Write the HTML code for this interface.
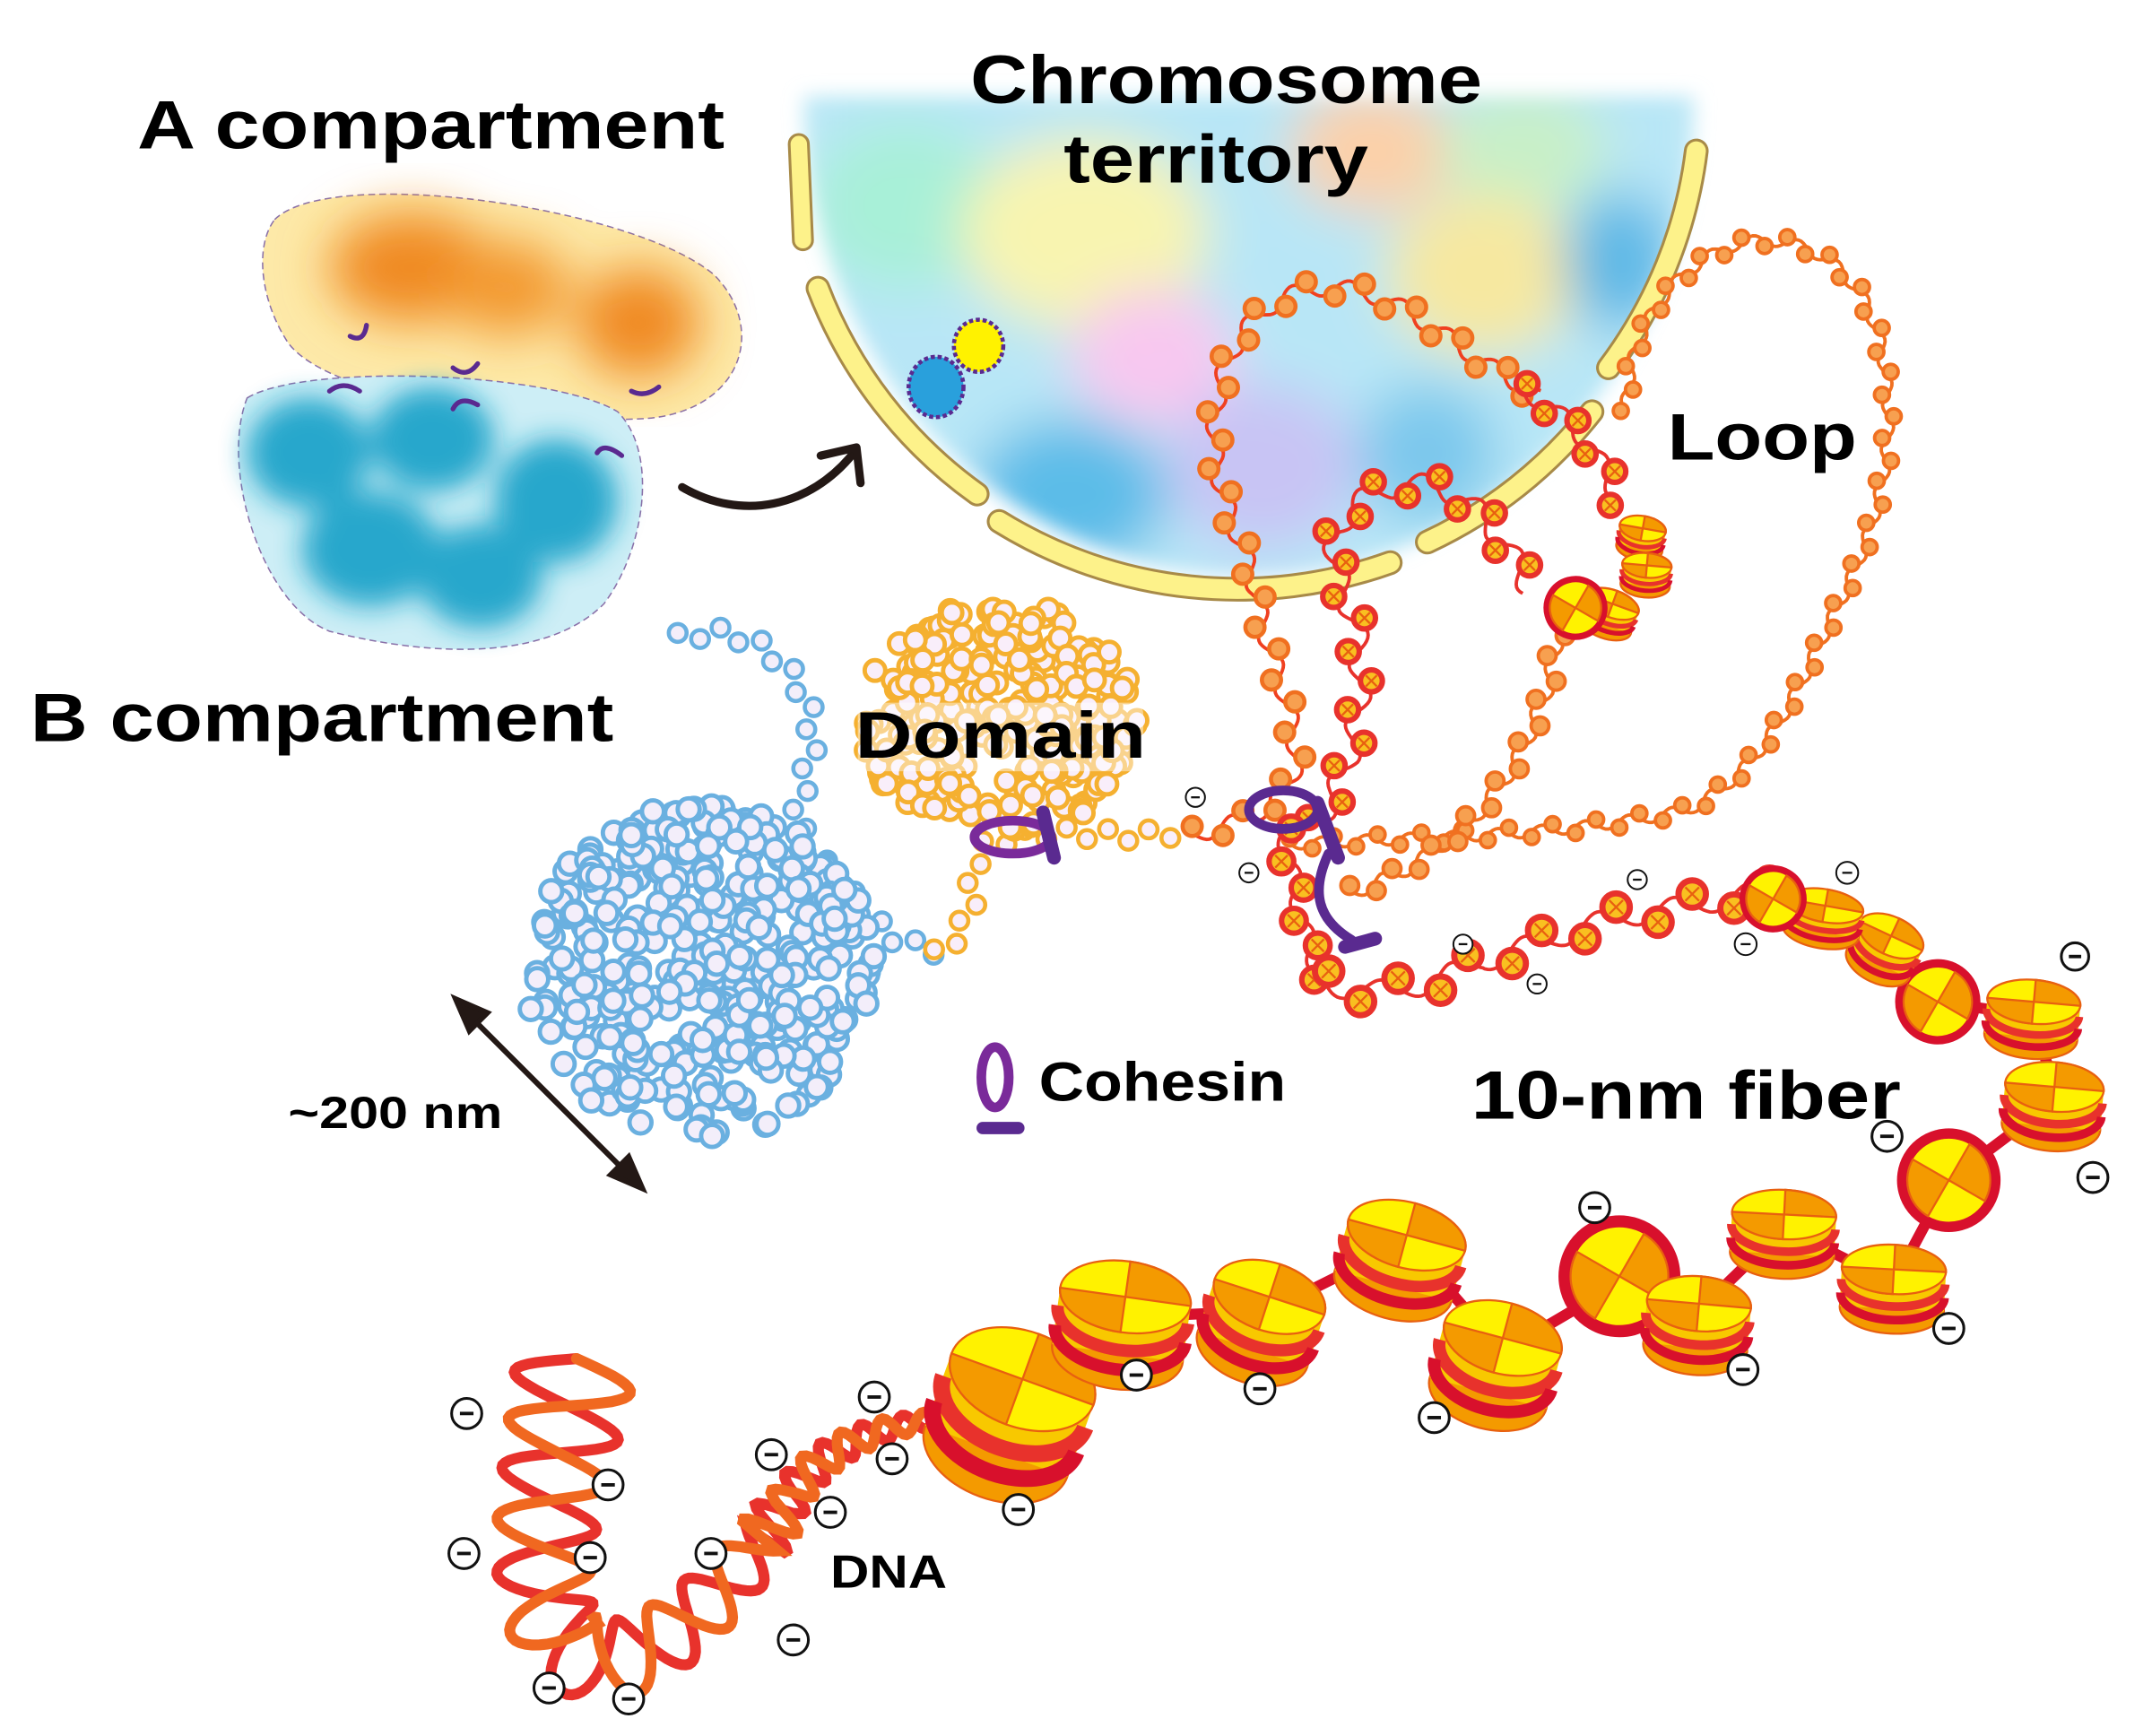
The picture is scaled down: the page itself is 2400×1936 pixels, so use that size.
<!DOCTYPE html>
<html><head><meta charset="utf-8"><style>
html,body{margin:0;padding:0;background:#fff;width:2400px;height:1936px;overflow:hidden}
svg{display:block}
text{font-family:"Liberation Sans",Arial,sans-serif;font-weight:bold;fill:#000}
</style></head><body>
<svg id="s" width="2400" height="1936" viewBox="0 0 1568 1265" xmlns="http://www.w3.org/2000/svg">
<defs>
<filter id="b1" x="-30%" y="-30%" width="160%" height="160%"><feGaussianBlur stdDeviation="18"/></filter>
<filter id="b2" x="-30%" y="-30%" width="160%" height="160%"><feGaussianBlur stdDeviation="10"/></filter>
<filter id="b3" x="-30%" y="-30%" width="160%" height="160%"><feGaussianBlur stdDeviation="7"/></filter>
<clipPath id="ct"><path d="M585,70 A325,350 0 0 0 1235,70 Z"/></clipPath>
</defs>
<path d="M200,160 C240,120 460,150 520,200 C560,240 540,300 470,305 C380,310 240,290 210,250 C190,220 185,180 200,160Z" fill="#fde9a8" stroke="#8a70a8" stroke-width="1" stroke-dasharray="5,3"/>
<g filter="url(#b1)">
<ellipse cx="300" cy="195" rx="60" ry="40" fill="#f08a20"/>
<ellipse cx="370" cy="210" rx="45" ry="35" fill="#f39a30"/>
<ellipse cx="465" cy="235" rx="45" ry="40" fill="#f08a20"/>
</g>
<path d="M180,290 C220,265 400,270 450,300 C480,330 470,400 440,440 C400,480 320,480 240,460 C190,440 160,340 180,290Z" fill="#cdeef6" stroke="#8a70a8" stroke-width="1" stroke-dasharray="5,3"/>
<g filter="url(#b2)" opacity="0.9">
<ellipse cx="225" cy="330" rx="45" ry="40" fill="#12a0c8"/>
<ellipse cx="315" cy="320" rx="45" ry="38" fill="#12a0c8"/>
<ellipse cx="405" cy="365" rx="45" ry="45" fill="#12a0c8"/>
<ellipse cx="270" cy="400" rx="50" ry="42" fill="#12a0c8"/>
<ellipse cx="350" cy="420" rx="45" ry="38" fill="#12a0c8"/>
</g>
<g fill="none" stroke="#5a2a90" stroke-width="3.5" stroke-linecap="round">
<path d="M255,245 q10,5 12,-8"/><path d="M330,268 q10,8 18,-3"/><path d="M460,285 q10,5 20,-3"/>
<path d="M240,285 q10,-8 22,0"/><path d="M330,298 q5,-10 18,-3"/><path d="M435,330 q5,-8 18,2"/>
</g>
<path d="M497,355 C540,380 590,370 622,330" fill="none" stroke="#231815" stroke-width="6" stroke-linecap="round"/>
<path d="M598,332 L624,326 L627,352" fill="none" stroke="#231815" stroke-width="6" stroke-linecap="round" stroke-linejoin="round"/>
<g filter="url(#b3)"><g clip-path="url(#ct)"><g filter="url(#b1)">
<rect x="570" y="40" width="680" height="420" fill="#b8e6f6"/>
<ellipse cx="660" cy="150" rx="70" ry="60" fill="#a8f0d8"/>
<ellipse cx="790" cy="170" rx="90" ry="70" fill="#f8f4b0"/>
<ellipse cx="1000" cy="110" rx="60" ry="45" fill="#fcd0a8"/>
<ellipse cx="1110" cy="110" rx="60" ry="45" fill="#c8f0c8"/>
<ellipse cx="1080" cy="200" rx="70" ry="60" fill="#f6e8a0"/>
<ellipse cx="1180" cy="190" rx="40" ry="50" fill="#5cb8e6"/>
<ellipse cx="840" cy="260" rx="60" ry="50" fill="#f8c8f0"/>
<ellipse cx="780" cy="360" rx="70" ry="55" fill="#5cbce8"/>
<ellipse cx="920" cy="340" rx="70" ry="60" fill="#c8c4f4"/>
<ellipse cx="1040" cy="330" rx="50" ry="50" fill="#7cc8ec"/>
</g></g></g>
<g fill="#fdf28a" stroke="#a88a48" stroke-width="2">
<path d="M575,105 a7,7 0 0 1 14,0 L592,175 a7,7 0 0 1 -14,0Z"/>
</g>
<g fill="none" stroke-linecap="round">
<path d="M596,210 A330,330 0 0 0 712,360" stroke="#a88a48" stroke-width="18"/>
<path d="M596,210 A330,330 0 0 0 712,360" stroke="#fdf28a" stroke-width="14"/>
<path d="M728,380 A330,330 0 0 0 1013,410" stroke="#a88a48" stroke-width="18"/>
<path d="M728,380 A330,330 0 0 0 1013,410" stroke="#fdf28a" stroke-width="14"/>
<path d="M1040,395 A330,330 0 0 0 1160,300" stroke="#a88a48" stroke-width="18"/>
<path d="M1040,395 A330,330 0 0 0 1160,300" stroke="#fdf28a" stroke-width="14"/>
<path d="M1172,268 A330,330 0 0 0 1236,110" stroke="#a88a48" stroke-width="18"/>
<path d="M1172,268 A330,330 0 0 0 1236,110" stroke="#fdf28a" stroke-width="14"/>
</g>
<ellipse cx="682" cy="282" rx="20" ry="22" fill="#29a0dc" stroke="#5a2a90" stroke-width="3" stroke-dasharray="3,2"/>
<ellipse cx="713" cy="252" rx="18" ry="19" fill="#fff200" stroke="#5a2a90" stroke-width="3" stroke-dasharray="3,2"/>
<path id="pBlue" d="M495,465 C540,450 580,480 590,520 C600,570 560,590 600,630 C630,660 640,690 685,692" fill="none"/>
<path id="pDom" d="M683,695 C730,660 690,620 730,612 C780,600 820,615 860,605" fill="none"/>
<path id="pL1" d="M870,608 C905,600 935,590 945,555 C940,500 920,470 915,430 C905,390 885,360 885,320 C885,250 920,215 960,210 C1010,205 1050,245 1090,270 C1110,280 1120,290 1120,290" fill="none"/>
<path id="pL2" d="M960,600 C985,560 995,520 990,470 C985,430 965,420 975,385 C990,355 1030,345 1060,360 C1085,375 1100,400 1115,430" fill="none"/>
<path id="pL1b" d="M1110,285 C1140,300 1170,330 1180,370" fill="none"/>
<path id="pL3" d="M940,615 C1030,610 1140,610 1230,590 C1290,560 1310,500 1340,440 C1370,380 1385,320 1370,250 C1355,185 1300,165 1260,180 C1210,200 1185,250 1185,300" fill="none"/>
<path id="pL4" d="M985,650 C1050,630 1100,580 1120,520 C1135,490 1130,470 1140,450" fill="none"/>
<path id="pF" d="M965,715 C1000,730 1040,720 1080,700 C1120,690 1160,670 1200,665 C1240,660 1270,650 1295,650" fill="none"/>
<path id="pF0" d="M935,605 C945,650 950,690 965,715" fill="none"/>
<g id="beads"></g>
<g id="ball"></g>
<g fill="none" stroke="#5a2a90" stroke-width="7" stroke-linecap="round">
<ellipse cx="738" cy="610" rx="28" ry="12" stroke="#7a2a9a"/>
<path d="M760,592 L768,625" stroke-width="10"/>
<ellipse cx="935" cy="590" rx="25" ry="14"/>
<path d="M960,585 L975,625" stroke-width="10"/>
<path d="M968,622 C955,650 960,670 985,685"/>
<path d="M980,690 L1002,684" stroke-width="10"/>
<ellipse cx="725" cy="785" rx="10" ry="22" stroke="#7a2a9a" stroke-width="7"/>
<path d="M716,822 L742,822" stroke-width="9"/>
</g>
<g stroke="#231815" stroke-width="4" fill="#231815">
<line x1="340" y1="738" x2="460" y2="858"/>
<path d="M332,728 L355,738 L342,751Z"/><path d="M468,866 L445,856 L458,843Z"/>
</g>
<g id="fiber"></g>
<g id="minus"></g>
<text x="100" y="108" font-size="50" textLength="428" lengthAdjust="spacingAndGlyphs">A compartment</text>
<text x="22" y="540" font-size="50" textLength="425" lengthAdjust="spacingAndGlyphs">B compartment</text>
<text x="707" y="75" font-size="50" textLength="373" lengthAdjust="spacingAndGlyphs">Chromosome</text>
<text x="775" y="133" font-size="50" textLength="222" lengthAdjust="spacingAndGlyphs">territory</text>
<text x="1215" y="335" font-size="48" textLength="138" lengthAdjust="spacingAndGlyphs">Loop</text>
<rect x="625" y="512" width="208" height="50" rx="8" fill="#fff" opacity="0.45"/>
<text x="623" y="552" font-size="48" textLength="212" lengthAdjust="spacingAndGlyphs">Domain</text>
<text x="757" y="802" font-size="40" textLength="180" lengthAdjust="spacingAndGlyphs">Cohesin</text>
<text x="1072" y="815" font-size="50" textLength="313" lengthAdjust="spacingAndGlyphs">10-nm fiber</text>
<text x="210" y="822" font-size="33" fill="#231815" textLength="156" lengthAdjust="spacingAndGlyphs">~200 nm</text>
<text x="605" y="1157" font-size="34" textLength="85" lengthAdjust="spacingAndGlyphs">DNA</text>
</svg>
<script>
var NS="http://www.w3.org/2000/svg",S=document.getElementById('s');
function el(t,a,p){var e=document.createElementNS(NS,t);for(var k in a)e.setAttribute(k,a[k]);(p||S).appendChild(e);return e;}
var seed=7;function rnd(){seed=(seed*16807)%2147483647;return seed/2147483647;}
var B=document.getElementById('beads'),BL=document.getElementById('ball'),F=document.getElementById('fiber'),M=document.getElementById('minus');
function beadsOn(id,sp,r,fill,stroke,sw,cross,wig,line){
 var p=document.getElementById(id),L=p.getTotalLength();
 if(line){var d='';for(var s=0;s<=L;s+=2){var q=p.getPointAtLength(s),q2=p.getPointAtLength(Math.min(L,s+1));var dx=q2.x-q.x,dy=q2.y-q.y,n=Math.hypot(dx,dy)||1;var o=wig*Math.sin(s/sp*Math.PI);d+=(s?'L':'M')+(q.x-dy/n*o).toFixed(1)+','+(q.y+dx/n*o).toFixed(1);}el('path',{d:d,fill:'none',stroke:line,'stroke-width':2.5},B);}
 for(var s=0;s<=L;s+=sp){var q=p.getPointAtLength(s),q2=p.getPointAtLength(Math.min(L,s+1));var dx=q2.x-q.x,dy=q2.y-q.y,n=Math.hypot(dx,dy)||1;var k=Math.round(s/sp)%2?1:-1;var o=wig*k;var x=q.x-dy/n*o,y=q.y+dx/n*o;
  el('circle',{cx:x,cy:y,r:r,fill:fill,stroke:stroke,'stroke-width':sw},B);
  if(cross){el('path',{d:'M'+(x-r*.5)+','+(y-r*.5)+'L'+(x+r*.5)+','+(y+r*.5)+'M'+(x+r*.5)+','+(y-r*.5)+'L'+(x-r*.5)+','+(y+r*.5),stroke:'#e86010','stroke-width':1.5},B);}}
}
beadsOn('pBlue',15,6.5,'#f3eefa','#6ab0e0',3,0,4);
beadsOn('pDom',15,6.5,'#f9eefa','#f5b030',3,0,4);
beadsOn('pL3',16,5.5,'#f7a050','#f07020',2.5,0,4,'#f07020');
beadsOn('pL4',17,6.5,'#f7a050','#f07020',2.5,0,5,'#f07020');
beadsOn('pL1',20,7,'#f7a050','#f07020',3,0,6,'#f04020');
beadsOn('pL1b',22,8,'#f9c020','#e8322c',4,1,6,'#e8322c');
beadsOn('pL2',22,8,'#f9c020','#e8322c',4,1,8,'#e8322c');
beadsOn('pF0',22,9,'#f9c020','#e8322c',4,1,6,'#e8322c');
beadsOn('pF',28,10,'#f9c020','#e8322c',4.5,1,8,'#e8322c');
for(var i=0;i<420;i++){var a=rnd()*6.283,rr=Math.sqrt(rnd())*125;var x=510+Math.cos(a)*rr*1.02,y=708+Math.sin(a)*rr*0.98;el('circle',{cx:x,cy:y,r:8,fill:'#f3eefa',stroke:'#6ab0e0','stroke-width':3.2},BL);}
for(var i=0;i<260;i++){var a=rnd()*6.283,rr=Math.sqrt(rnd())*90;var x=728+Math.cos(a)*rr*1.12,y=525+Math.sin(a)*rr*0.97;if(y>605)continue;el('circle',{cx:x,cy:y,r:7.5,fill:'#f9eefa',stroke:'#f5b030','stroke-width':3.2},BL);}
(function(){var p=el('path',{d:'M420,990 C405,1080 375,1170 420,1205 C470,1230 540,1150 580,1085 C610,1045 650,1040 690,1032',fill:'none'},F);var L=p.getTotalLength();
 var d1='',d2='';for(var s=0;s<=L;s+=2){var q=p.getPointAtLength(s),q2=p.getPointAtLength(Math.min(L,s+1));var dx=q2.x-q.x,dy=q2.y-q.y,n=Math.hypot(dx,dy)||1;var t=s/L;var A=t<0.75?44-26*t/0.75:15-10*(t-0.75)/0.25;var per=t<0.7?70:30;var o=A*Math.sin(s/per*6.283);
 d1+=(s?'L':'M')+(q.x-dy/n*o).toFixed(1)+','+(q.y+dx/n*o).toFixed(1);d2+=(s?'L':'M')+(q.x+dy/n*o).toFixed(1)+','+(q.y-dx/n*o).toFixed(1);}
 el('path',{d:d1,fill:'none',stroke:'#e8322c','stroke-width':8,'stroke-linecap':'round'},F);el('path',{d:d2,fill:'none',stroke:'#f06820','stroke-width':8,'stroke-linecap':'round'},F);})();
el('path',{d:'M690,1035 L745,1010 L820,960 L925,955 L1025,905 L1095,985 L1180,935 L1238,955 L1300,895 L1380,935 L1420,860 L1500,800 L1480,740 L1412,730 L1375,690 L1330,668 L1295,655',fill:'none',stroke:'#d8102c','stroke-width':8,'stroke-linejoin':'round'},F);
function nuc(cx,cy,rx,ry,rot){var g=el('g',{transform:'translate('+cx+','+cy+') rotate('+rot+')'},F);
 el('ellipse',{cx:0,cy:ry*1.6,rx:rx,ry:ry,fill:'#f49a00',stroke:'#e86010','stroke-width':1.5},g);
 el('rect',{x:-rx,y:0,width:2*rx,height:ry*1.6,fill:'#f8c800'},g);
 el('path',{d:'M'+(-rx)+','+(ry*0.5)+' A'+rx+','+ry+' 0 0 0 '+rx+','+(ry*0.5),fill:'none',stroke:'#e8322c','stroke-width':ry*0.35},g);
 el('path',{d:'M'+(-rx)+','+(ry*1.05)+' A'+rx+','+ry+' 0 0 0 '+rx+','+(ry*1.05),fill:'none',stroke:'#d8102c','stroke-width':ry*0.35},g);
 el('ellipse',{cx:0,cy:0,rx:rx,ry:ry,fill:'#fff200',stroke:'#e86010','stroke-width':1.5},g);
 el('path',{d:'M0,'+(-ry)+' A'+rx+','+ry+' 0 0 1 '+rx+',0 L0,0Z M0,'+ry+' A'+rx+','+ry+' 0 0 1 '+(-rx)+',0 L0,0Z',fill:'#f49a00',stroke:'#e86010','stroke-width':1.5},g);}
function face(cx,cy,r){var g=el('g',{transform:'translate('+cx+','+cy+') rotate(30)'},F);el('circle',{cx:0,cy:0,r:r,fill:'#fff200',stroke:'#d8102c','stroke-width':r*0.22},g);
 var R=r*0.89;el('path',{d:'M0,0 L0,'+(-R)+' A'+R+','+R+' 0 0 1 '+R+',0 Z M0,0 L0,'+R+' A'+R+','+R+' 0 0 1 '+(-R)+',0 Z',fill:'#f49a00',stroke:'#e86010','stroke-width':1.5},g);}
nuc(745,1005,55,35,20);nuc(820,945,48,26,8);nuc(925,945,42,25,18);nuc(1025,900,44,24,15);nuc(1095,975,44,26,15);
face(1180,930,40);nuc(1238,950,38,20,5);nuc(1300,885,38,18,3);nuc(1380,925,38,18,3);face(1420,860,34);nuc(1497,792,36,18,5);
nuc(1482,730,34,16,5);face(1412,730,28);nuc(1378,682,25,14,25);nuc(1330,660,28,12,10);face(1292,655,22);
nuc(1197,385,17,9,10);nuc(1200,412,18,9,5);nuc(1175,440,20,10,20);face(1148,443,21);
[[340,1030,11],[443,1082,11],[338,1132,11],[430,1135,11],[518,1132,11],[562,1060,11],[605,1102,11],[578,1195,11],[400,1230,11],[458,1238,11],[637,1018,11],[650,1063,11],[742,1100,11],[828,1002,11],[918,1012,11],[1045,1033,11],[1162,880,11],[1270,998,11],[1420,968,11],[1525,858,11],[1375,828,11],[1512,697,10],[1346,636,8],[1272,688,8],[1193,641,7],[1120,717,7],[1066,688,7],[910,636,7],[871,581,7]].forEach(function(m){
 el('circle',{cx:m[0],cy:m[1],r:m[2],fill:'#fff',stroke:'#111','stroke-width':m[2]>9?2:1.3},M);
 el('line',{x1:m[0]-m[2]*0.45,y1:m[1],x2:m[0]+m[2]*0.45,y2:m[1],stroke:'#111','stroke-width':m[2]>9?2.5:1.5},M);});
</script>
</body></html>
